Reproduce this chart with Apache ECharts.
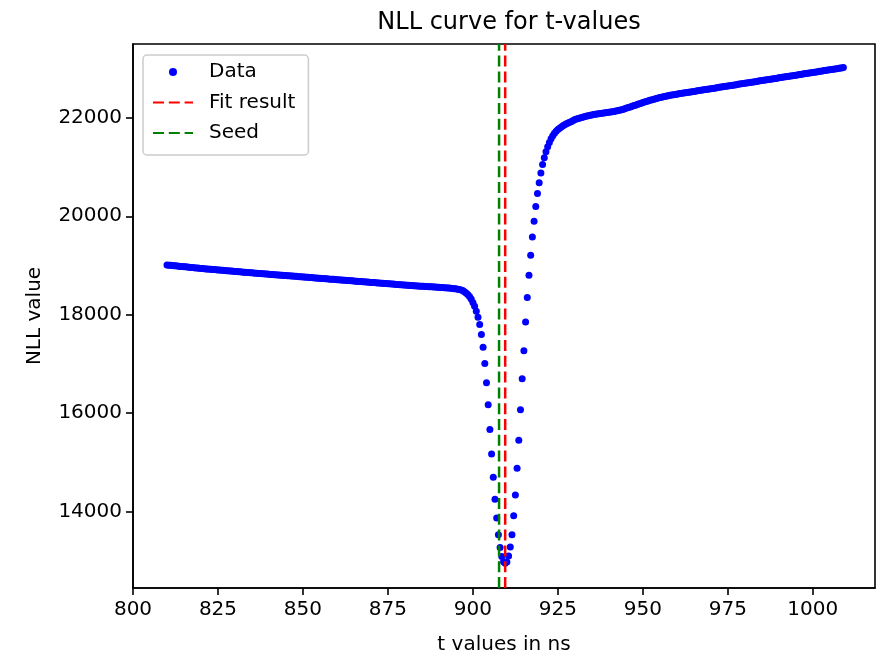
<!DOCTYPE html>
<html><head><meta charset="utf-8">
<script src="https://cdn.jsdelivr.net/npm/echarts@6/dist/echarts.min.js"></script>
<style>html,body{margin:0;padding:0;background:#fff}#c{width:880px;height:660px}</style>
</head><body><div id="c"></div>
<script>
const tValues = [
810,810.5,811,811.5,812,812.5,813,813.5,814,814.5,
815,815.5,816,816.5,817,817.5,818,818.5,819,819.5,
820,820.5,821,821.5,822,822.5,823,823.5,824,824.5,
825,825.5,826,826.5,827,827.5,828,828.5,829,829.5,
830,830.5,831,831.5,832,832.5,833,833.5,834,834.5,
835,835.5,836,836.5,837,837.5,838,838.5,839,839.5,
840,840.5,841,841.5,842,842.5,843,843.5,844,844.5,
845,845.5,846,846.5,847,847.5,848,848.5,849,849.5,
850,850.5,851,851.5,852,852.5,853,853.5,854,854.5,
855,855.5,856,856.5,857,857.5,858,858.5,859,859.5,
860,860.5,861,861.5,862,862.5,863,863.5,864,864.5,
865,865.5,866,866.5,867,867.5,868,868.5,869,869.5,
870,870.5,871,871.5,872,872.5,873,873.5,874,874.5,
875,875.5,876,876.5,877,877.5,878,878.5,879,879.5,
880,880.5,881,881.5,882,882.5,883,883.5,884,884.5,
885,885.5,886,886.5,887,887.5,888,888.5,889,889.5,
890,890.5,891,891.5,892,892.5,893,893.5,894,894.5,
895,895.5,896,896.5,897,897.5,898,898.5,899,899.5,
900,900.5,901,901.5,902,902.5,903,903.5,904,904.5,
905,905.5,906,906.5,907,907.5,908,908.5,909,909.5,
910,910.5,911,911.5,912,912.5,913,913.5,914,914.5,
915,915.5,916,916.5,917,917.5,918,918.5,919,919.5,
920,920.5,921,921.5,922,922.5,923,923.5,924,924.5,
925,925.5,926,926.5,927,927.5,928,928.5,929,929.5,
930,930.5,931,931.5,932,932.5,933,933.5,934,934.5,
935,935.5,936,936.5,937,937.5,938,938.5,939,939.5,
940,940.5,941,941.5,942,942.5,943,943.5,944,944.5,
945,945.5,946,946.5,947,947.5,948,948.5,949,949.5,
950,950.5,951,951.5,952,952.5,953,953.5,954,954.5,
955,955.5,956,956.5,957,957.5,958,958.5,959,959.5,
960,960.5,961,961.5,962,962.5,963,963.5,964,964.5,
965,965.5,966,966.5,967,967.5,968,968.5,969,969.5,
970,970.5,971,971.5,972,972.5,973,973.5,974,974.5,
975,975.5,976,976.5,977,977.5,978,978.5,979,979.5,
980,980.5,981,981.5,982,982.5,983,983.5,984,984.5,
985,985.5,986,986.5,987,987.5,988,988.5,989,989.5,
990,990.5,991,991.5,992,992.5,993,993.5,994,994.5,
995,995.5,996,996.5,997,997.5,998,998.5,999,999.5,
1000,1000.5,1001,1001.5,1002,1002.5,1003,1003.5,1004,1004.5,
1005,1005.5,1006,1006.5,1007,1007.5,1008,1008.5,1009
];
const nllValues = [
19010,19007,19003,19000,18996,18993,18989,18986,18982,18979,
18975,18972,18968,18965,18961,18958,18954,18951,18947,18944,
18940,18937,18934,18931,18928,18925,18922,18919,18916,18913,
18910,18907,18904,18901,18898,18895,18892,18889,18886,18883,
18880,18877,18874,18871,18868,18865,18862,18859,18856,18853,
18850,18847,18844,18842,18839,18836,18833,18830,18828,18825,
18822,18819,18817,18814,18811,18809,18806,18803,18800,18798,
18795,18792,18790,18787,18784,18782,18779,18776,18773,18771,
18768,18765,18762,18760,18757,18754,18751,18748,18746,18743,
18740,18737,18734,18732,18729,18726,18723,18720,18718,18715,
18712,18709,18707,18704,18701,18699,18696,18693,18690,18688,
18685,18682,18679,18677,18674,18671,18668,18665,18663,18660,
18657,18654,18652,18649,18646,18644,18641,18638,18635,18633,
18630,18627,18624,18622,18619,18616,18613,18610,18608,18605,
18602,18600,18597,18595,18592,18590,18588,18585,18583,18580,
18578,18576,18574,18572,18570,18568,18566,18564,18562,18560,
18558,18555,18552,18550,18547,18544,18541,18538,18534,18530,
18525,18518,18510,18500,18490,18465,18440,18410,18370,18320,
18250,18170,18070,17950,17800,17600,17340,17010,16620,16170,
15670,15170,14700,14250,13870,13530,13270,13090,12980,12950,
12975,13100,13280,13530,13915,14340,14880,15450,16070,16700,
17270,17850,18350,18800,19210,19580,19900,20200,20460,20680,
20880,21050,21190,21310,21410,21500,21575,21635,21685,21725,
21760,21790,21815,21840,21860,21878,21895,21910,21925,21945,
21965,21976,21987,21997,22007,22017,22026,22035,22043,22051,
22058,22065,22071,22077,22083,22089,22094,22099,22104,22109,
22114,22119,22124,22130,22136,22143,22151,22160,22170,22181,
22192,22203,22214,22226,22238,22250,22262,22274,22286,22298,
22310,22321,22332,22343,22354,22364,22374,22384,22393,22402,
22411,22419,22427,22435,22442,22449,22456,22462,22468,22474,
22480,22486,22492,22497,22503,22508,22514,22519,22525,22530,
22536,22541,22547,22552,22558,22563,22569,22574,22580,22585,
22591,22596,22602,22607,22613,22618,22624,22629,22635,22640,
22646,22651,22657,22662,22668,22673,22679,22684,22690,22695,
22701,22706,22712,22717,22723,22728,22734,22739,22745,22750,
22756,22761,22767,22772,22778,22783,22789,22794,22800,22805,
22811,22816,22822,22827,22833,22838,22844,22849,22855,22860,
22866,22871,22877,22882,22888,22893,22899,22904,22910,22915,
22921,22926,22932,22937,22943,22948,22954,22959,22965,22970,
22976,22981,22987,22992,22998,23003,23009,23014,23020
];
const fitT = 909.5;
const seedT = 907.7;
const xTicks = [800, 825, 850, 875, 900, 925, 950, 975, 1000];
const yTicks = [14000, 16000, 18000, 20000, 22000];
const xRange = [800, 1018.3];
const yRange = [12449, 23499];

const FONT = 'DejaVu Sans';
const points = tValues.map((t, i) => [t, nllValues[i]]);
const plain = v => String(v);

const chart = echarts.init(document.getElementById('c'), null, {renderer: 'canvas'});
chart.setOption({
  animation: false,
  backgroundColor: '#fff',
  title: {
    text: 'NLL curve for t-values',
    left: 504, top: 6, textAlign: 'center',
    textStyle: {fontFamily: FONT, fontSize: 24, fontWeight: 'normal', color: '#000'}
  },
  grid: {left: 133, right: 5, top: 44, bottom: 56, show: true, borderColor: '#000', borderWidth: 1.6, containLabel: false},
  legend: {
    orient: 'vertical', left: 143, top: 55,
    padding: [7, 13, 12, 9],
    itemWidth: 40, itemHeight: 8, itemGap: 10.5,
    backgroundColor: 'rgba(255,255,255,0.8)', borderColor: '#cccccc', borderWidth: 1.5, borderRadius: 4,
    textStyle: {fontFamily: FONT, fontSize: 20, color: '#000', padding: [0, 0, 0, 11]},
    data: [
      {name: 'Data', icon: 'circle'},
      {name: 'Fit result', itemStyle: {opacity: 0}},
      {name: 'Seed', itemStyle: {opacity: 0}}
    ]
  },
  xAxis: {
    type: 'value', min: xRange[0], max: xRange[1],
    splitLine: {show: false},
    axisLine: {show: true, onZero: false, lineStyle: {color: '#000', width: 1.6}},
    axisTick: {show: true, inside: false, length: 7, lineStyle: {color: '#000', width: 1.6}, customValues: xTicks},
    axisLabel: {customValues: xTicks, formatter: plain, margin: 12, color: '#000', fontFamily: FONT, fontSize: 20},
    name: 't values in ns', nameLocation: 'middle', nameGap: 47,
    nameTextStyle: {fontFamily: FONT, fontSize: 20, color: '#000'}
  },
  yAxis: {
    type: 'value', min: yRange[0], max: yRange[1],
    splitLine: {show: false},
    axisLine: {show: true, onZero: false, lineStyle: {color: '#000', width: 1.6}},
    axisTick: {show: true, inside: false, length: 7, lineStyle: {color: '#000', width: 1.6}, customValues: yTicks},
    axisLabel: {customValues: yTicks, formatter: plain, margin: 11, color: '#000', fontFamily: FONT, fontSize: 20},
    name: 'NLL value', nameLocation: 'middle', nameGap: 88,
    nameTextStyle: {fontFamily: FONT, fontSize: 20, color: '#000'}
  },
  series: [
    {
      name: 'Data', type: 'scatter', data: points,
      symbol: 'circle', symbolSize: 7,
      itemStyle: {color: '#0000ff', opacity: 1},
      z: 2
    },
    {
      name: 'Fit result', type: 'line',
      data: [[fitT, yRange[0]], [fitT, yRange[1]]],
      symbol: 'none',
      lineStyle: {color: '#ff0000', width: 2.5, type: [11, 4.8]},
      itemStyle: {color: '#ff0000'},
      z: 3
    },
    {
      name: 'Seed', type: 'line',
      data: [[seedT, yRange[0]], [seedT, yRange[1]]],
      symbol: 'none',
      lineStyle: {color: '#008000', width: 2.5, type: [11, 4.8]},
      itemStyle: {color: '#008000'},
      z: 3
    }
  ]
});
</script>
</body></html>
